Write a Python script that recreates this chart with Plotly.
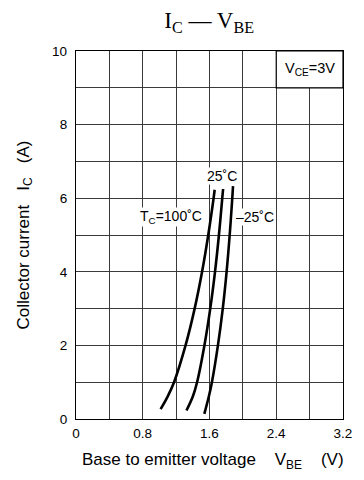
import plotly.graph_objects as go

# Data
vbe_100 = [1.014, 1.098, 1.175, 1.313, 1.422, 1.511, 1.585, 1.649, 1.662]
ic_100 = [0.27, 0.61, 1.0, 2.0, 3.0, 4.0, 5.0, 6.0, 6.23]
vbe_25 = [1.324, 1.400, 1.451, 1.539, 1.609, 1.666, 1.713, 1.753, 1.763]
ic_25 = [0.23, 0.61, 1.0, 2.0, 3.0, 4.0, 5.0, 6.0, 6.25]
vbe_m25 = [1.538, 1.592, 1.629, 1.701, 1.759, 1.805, 1.842, 1.873, 1.882]
ic_m25 = [0.14, 0.61, 1.0, 2.0, 3.0, 4.0, 5.0, 6.0, 6.33]
x_ticks = [0, 0.8, 1.6, 2.4, 3.2]
x_ticktext = ["0", "0.8", "1.6", "2.4", "3.2"]
y_ticks = [0, 2, 4, 6, 8, 10]
x_minor = [0.4, 1.2, 2.0, 2.8]
y_minor = [1, 3, 5, 7, 9]

FONT = "Liberation Sans, Arial, Helvetica, sans-serif"
NB = "\u00a0"
GRID = "#3a3a3a"

fig = go.Figure()
for xs, ys in [(vbe_100, ic_100), (vbe_25, ic_25), (vbe_m25, ic_m25)]:
    fig.add_trace(go.Scatter(x=xs, y=ys, mode="lines",
                             line=dict(color="black", width=2.6, shape="spline", smoothing=1.0),
                             showlegend=False, hoverinfo="skip"))

# merged cell for V_CE label
fig.add_shape(type="rect", xref="x", yref="y", x0=2.4, x1=3.2, y0=9, y1=10,
              fillcolor="white", line=dict(color="black", width=1.2), layer="between")

fig.add_annotation(x=2.8, y=9.5, xref="x", yref="y", showarrow=False,
                   text="V<sub>CE</sub>=3V", font=dict(family=FONT, size=14.5, color="black"))
fig.add_annotation(x=1.75, y=6.6, xref="x", yref="y", showarrow=False,
                   text="25˚C", bgcolor="white", borderpad=0,
                   font=dict(family=FONT, size=14, color="black"))
fig.add_annotation(x=1.525, y=5.5, xref="x", yref="y", showarrow=False, xanchor="right",
                   text="T<sub>C</sub>=100˚C", bgcolor="white", borderpad=0,
                   font=dict(family=FONT, size=14, color="black"))
fig.add_annotation(x=1.9, y=5.5, xref="x", yref="y", showarrow=False, xanchor="left",
                   text="–25˚C", bgcolor="white", borderpad=0,
                   font=dict(family=FONT, size=14, color="black"))

# x-axis title
fig.add_annotation(x=0.513, y=-0.115, xref="paper", yref="paper", showarrow=False,
                   xanchor="center", yanchor="middle",
                   text="Base to emitter voltage" + NB * 4 + "V<sub>BE</sub>" + NB * 4 + "(V)",
                   font=dict(family=FONT, size=17, color="black"))

fig.update_layout(
    width=356, height=472,
    margin=dict(l=68, r=15, t=43, b=61),
    paper_bgcolor="white", plot_bgcolor="white",
    title=dict(text="I<sub>C</sub> — V<sub>BE</sub>", x=0.565, xanchor="center", y=0.974, yanchor="middle",
               font=dict(family="Liberation Serif, Times New Roman, serif", size=23, color="black")),
    font=dict(family=FONT, size=13, color="black"),
)
fig.update_xaxes(range=[0, 3.2], showgrid=True, gridcolor=GRID, gridwidth=1,
                 tickmode="array", tickvals=x_ticks, ticktext=x_ticktext, ticks="",
                 showline=True, linecolor="black", linewidth=1.3, mirror=True, zeroline=False,
                 tickfont=dict(family=FONT, size=13.5, color="black"), ticklabelstandoff=2,
                 ticklabeloverflow="allow",
                 minor=dict(tickvals=x_minor, showgrid=True, gridcolor=GRID, gridwidth=1))
fig.update_yaxes(range=[0, 10], showgrid=True, gridcolor=GRID, gridwidth=1,
                 tickmode="array", tickvals=y_ticks, ticks="",
                 showline=True, linecolor="black", linewidth=1.3, mirror=True, zeroline=False,
                 tickfont=dict(family=FONT, size=13.5, color="black"), ticklabelstandoff=5,
                 minor=dict(tickvals=y_minor, showgrid=True, gridcolor=GRID, gridwidth=1),
                 title=dict(text="Collector current" + NB * 3 + "I<sub>C</sub>" + NB * 3 + "(A)",
                            font=dict(family=FONT, size=17, color="black"), standoff=18))

fig.write_html("out.html")
